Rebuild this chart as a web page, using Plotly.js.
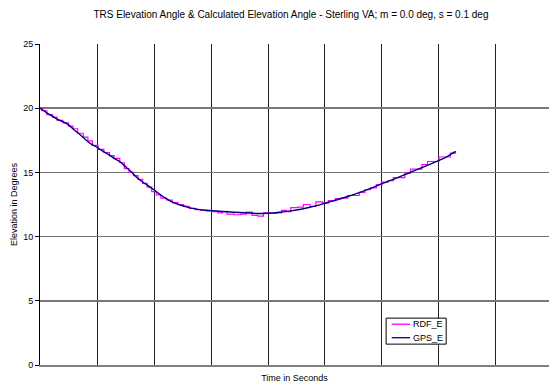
<!DOCTYPE html>
<html>
<head>
<meta charset="utf-8">
<script src="https://cdn.plot.ly/plotly-3.0.1.min.js"></script>
<style>html,body{margin:0;padding:0;background:#fff;}#chart{width:549px;height:386px;}</style>
</head>
<body>
<div id="chart"></div>
<script>
// Time in seconds (grid spacing = 100 s, no tick labels in the original)
const gpsTime = [0,10,20,30,40,50,60,70,80,90,100,110,120,130,140,150,160,170,180,190,200,210,220,230,240,250,260,270,280,290,300,320,340,360,380,400,420,440,460,480,500,520,540,560,580,600,620,640,660,680,700,715,729];
const gpsElev = [20.0,19.7,19.42,19.15,18.95,18.7,18.3,17.95,17.55,17.2,16.95,16.65,16.4,16.1,15.85,15.45,15.05,14.6,14.25,13.95,13.65,13.3,13.0,12.75,12.55,12.4,12.28,12.18,12.1,12.05,12.02,11.96,11.9,11.86,11.8,11.82,11.9,12.0,12.15,12.35,12.6,12.85,13.12,13.42,13.75,14.12,14.45,14.82,15.2,15.55,15.93,16.25,16.64];

const rdfTime = [0,3,12,22,30,40,50,58,66,76,84,92,102,112,122,130,140,148,156,164,172,180,188,196,204,212,222,232,242,252,262,272,282,292,302,312,320,328,340,352,362,372,382,392,404,414,424,432,440,452,462,474,484,496,506,518,528,540,550,560,570,580,590,600,610,620,632,640,650,660,670,680,690,700,712,720,729];
const rdfElev = [20.0,19.8,19.5,19.3,19.05,18.85,18.6,18.4,18.05,17.75,17.45,17.1,16.8,16.55,16.3,16.1,15.75,15.3,15.0,14.75,14.45,14.15,13.85,13.5,13.25,13.0,12.85,12.65,12.5,12.35,12.2,12.1,12.05,12.0,11.95,11.85,11.95,11.75,11.7,11.75,11.9,11.65,11.6,11.85,11.8,11.85,12.05,11.95,12.25,12.3,12.5,12.35,12.7,12.6,12.8,12.95,13.0,13.2,13.2,13.45,13.65,13.8,14.05,14.25,14.35,14.6,14.6,14.95,15.25,15.25,15.6,15.85,15.85,16.2,16.2,16.5,16.64];

const seriesNames = ['RDF_E','GPS_E'];
const seriesColors = ['#FF00FF','#000080'];
const yTicks = [0,5,10,15,20,25];

const traces = [
  {x: rdfTime, y: rdfElev, name: seriesNames[0], type: 'scatter', mode: 'lines',
   line: {color: seriesColors[0], width: 1.2, shape: 'hv'}},
  {x: gpsTime, y: gpsElev, name: seriesNames[1], type: 'scatter', mode: 'lines',
   line: {color: seriesColors[1], width: 1.4, shape: 'spline', smoothing: 0.6}}
];

// Compact legend box (paper coordinates), like the original spreadsheet legend
const legX0 = 0.680, legX1 = 0.798, legY0 = 0.065, legY1 = 0.146;
const legRows = [0.127, 0.085];
const shapes = [
  {type: 'rect', xref: 'paper', yref: 'paper', x0: legX0, x1: legX1, y0: legY0, y1: legY1,
   line: {color: '#000', width: 1}, fillcolor: '#fff', layer: 'above'}
];
const annotations = [];
seriesNames.forEach((n, i) => {
  shapes.push({type: 'line', xref: 'paper', yref: 'paper', x0: 0.691, x1: 0.727,
               y0: legRows[i], y1: legRows[i], line: {color: seriesColors[i], width: 1.3}, layer: 'above'});
  annotations.push({xref: 'paper', yref: 'paper', x: 0.729, y: legRows[i], xanchor: 'left', yanchor: 'middle',
                    text: n, showarrow: false, font: {size: 9, color: '#000'}});
});

const layout = {
  width: 549, height: 386,
  margin: {l: 40, r: 0, t: 44, b: 21, pad: 0},
  paper_bgcolor: '#fff', plot_bgcolor: '#fff',
  font: {family: '"Liberation Sans", Arial, sans-serif', size: 9, color: '#000'},
  showlegend: false,
  shapes: shapes,
  annotations: annotations,
  title: {text: 'TRS Elevation Angle & Calculated Elevation Angle - Sterling VA; m = 0.0 deg, s = 0.1 deg',
          font: {size: 10, color: '#000'}, x: 0.53, xref: 'container', xanchor: 'center',
          y: 0.963, yref: 'container', yanchor: 'middle'},
  xaxis: {range: [0, 893], dtick: 100, tick0: 0, showticklabels: false, ticks: '',
          showgrid: true, gridcolor: '#222', gridwidth: 1, zeroline: false,
          showline: true, linecolor: '#808080', linewidth: 2,
          title: {text: 'Time in Seconds', font: {size: 9, color: '#000'}, standoff: 9}},
  yaxis: {range: [0, 25], tickvals: yTicks, ticks: 'outside', ticklen: 4, tickcolor: '#000',
          showgrid: true, gridcolor: '#777', gridwidth: 1.5, zeroline: false,
          showline: true, linecolor: '#000', linewidth: 1,
          tickfont: {size: 9, color: '#000'},
          title: {text: 'Elevation in Degrees', font: {size: 9, color: '#000'}, standoff: 4}}
};

Plotly.newPlot('chart', traces, layout, {displayModeBar: false, staticPlot: true});
</script>
</body>
</html>
